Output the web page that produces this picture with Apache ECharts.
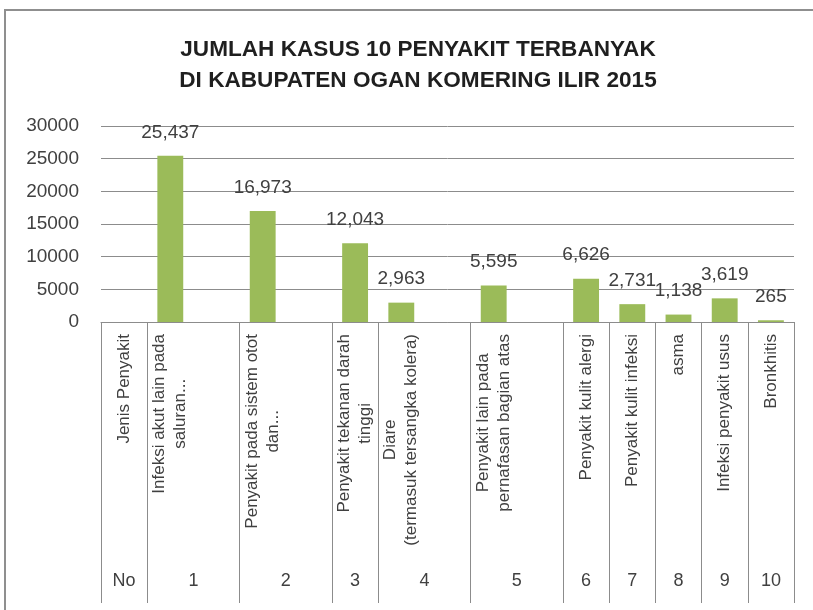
<!DOCTYPE html>
<html>
<head>
<meta charset="utf-8">
<title>Jumlah Kasus 10 Penyakit Terbanyak</title>
<script src="https://cdn.jsdelivr.net/npm/echarts@6/dist/echarts.min.js"></script>
<style>
  html, body { margin: 0; padding: 0; background: #fff; }
  #frame { position: absolute; left: 4px; top: 9px; width: 900px; height: 700px; border: 2px solid #8f8f8f; }
  #main { position: absolute; left: 0; top: 0; width: 813px; height: 610px; }
</style>
</head>
<body>
<div id="frame"></div>
<div id="main"></div>
<script>
// inner level of the category axis (one entry per sheet row)
const leafLabels = [
  'Jenis Penyakit',
  'Infeksi akut lain pada\nsaluran...', '',
  'Penyakit pada sistem otot\ndan...', '',
  'Penyakit tekanan darah\ntinggi',
  'Diare\n(termasuk tersangka kolera)', '',
  'Penyakit lain pada\npernafasan bagian atas', '',
  'Penyakit kulit alergi',
  'Penyakit kulit infeksi',
  'asma',
  'Infeksi penyakit usus',
  'Bronkhitis'
];
const caseCounts = [null, 25437, null, 16973, null, 12043, 2963, null, 5595, null, 6626, 2731, 1138, 3619, 265];

// outer level: the "No" column and how many rows each one covers
const groupNames = ['No', '1', '2', '3', '4', '5', '6', '7', '8', '9', '10'];
const groupSpans = [1, 2, 2, 1, 2, 2, 1, 1, 1, 1, 1];

const groupEdges = [0];
groupSpans.forEach(s => groupEdges.push(groupEdges[groupEdges.length - 1] + s));
const groupMids = groupSpans.map((s, i) => groupEdges[i] + s / 2);

const font = 'Liberation Sans';
const gray = '#8c8c8c';
const textColor = '#404040';

const myChart = echarts.init(document.getElementById('main'));

const option = {
  backgroundColor: 'transparent',
  animation: false,
  title: {
    text: 'JUMLAH KASUS 10 PENYAKIT TERBANYAK\nDI KABUPATEN OGAN KOMERING ILIR 2015',
    left: 413,
    top: 29,
    textAlign: 'center',
    textStyle: {
      fontFamily: font,
      fontSize: 22.6,
      fontWeight: 'bold',
      lineHeight: 31,
      color: '#1f1f1f'
    }
  },
  grid: {
    left: 101,
    right: 19,
    top: 126,
    bottom: 288,
    outerBoundsMode: 'none'
  },
  xAxis: [
    {
      type: 'category',
      data: leafLabels.map((_, i) => String(i)),
      axisLine: { lineStyle: { color: gray, width: 1 } },
      axisTick: { show: false },
      axisLabel: {
        interval: 0,
        rotate: 90,
        margin: 12,
        fontFamily: font,
        fontSize: 17,
        lineHeight: 21,
        color: textColor,
        formatter: (v, idx) => {
          const t = leafLabels[idx];
          return t ? t.split('\n').map(l => '{c|' + l + '}').join('\n') : '';
        },
        rich: {
          c: { align: 'center', fontFamily: font, fontSize: 17, lineHeight: 21, color: textColor }
        }
      }
    },
    {
      type: 'value',
      position: 'bottom',
      offset: 281,
      min: 0,
      max: leafLabels.length,
      axisLine: { show: false },
      splitLine: { show: false },
      axisTick: {
        show: true,
        inside: true,
        length: 281,
        customValues: groupEdges,
        lineStyle: { color: gray, width: 1 }
      },
      axisLabel: {
        inside: true,
        margin: 13,
        customValues: groupMids,
        fontFamily: font,
        fontSize: 18,
        color: textColor,
        formatter: v => groupNames[groupMids.indexOf(v)]
      }
    }
  ],
  yAxis: {
    type: 'value',
    min: 0,
    max: 30000,
    interval: 5000,
    axisLine: { show: false },
    axisTick: { show: false },
    splitLine: { lineStyle: { color: gray, width: 1 } },
    axisLabel: {
      margin: 22,
      fontFamily: font,
      fontSize: 19,
      color: textColor,
      formatter: v => String(v)
    }
  },
  series: [
    {
      name: 'Jumlah Kasus',
      type: 'bar',
      xAxisIndex: 0,
      data: caseCounts,
      barWidth: '56%',
      itemStyle: { color: '#9bbb59' },
      label: {
        show: true,
        position: 'top',
        distance: 14,
        fontFamily: font,
        fontSize: 19,
        color: textColor,
        formatter: p => p.value.toLocaleString('en-US')
      }
    }
  ]
};

myChart.setOption(option);
</script>
</body>
</html>
